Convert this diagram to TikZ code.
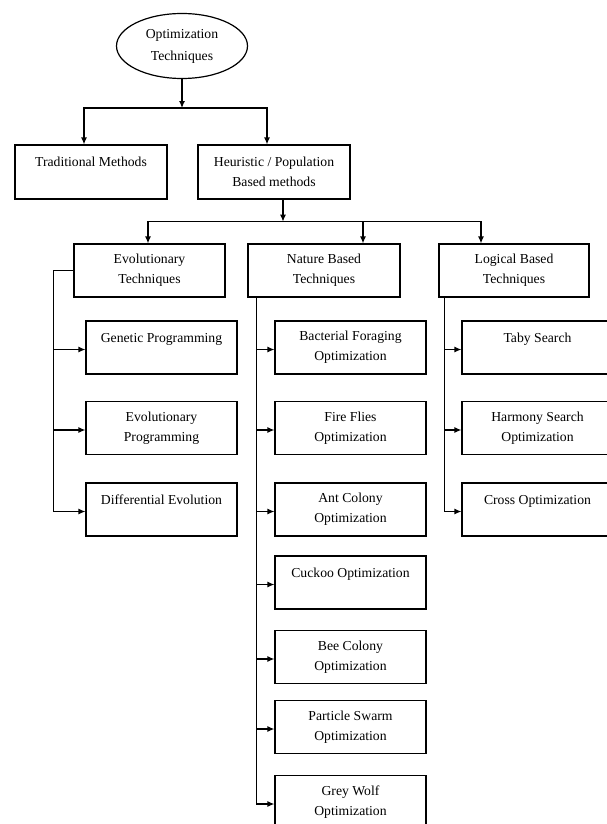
\documentclass[tikz,border=0pt]{standalone}
\usepackage{fontspec}
\setmainfont{Liberation Serif}
\usetikzlibrary{shapes.geometric,arrows.meta}
\begin{document}
\begin{tikzpicture}[x=1pt,y=-1pt,line width=1.2pt,>={Latex[length=7pt,width=6pt]},
    box/.style={draw,rectangle,minimum width=151pt,minimum height=53pt,inner sep=2pt,align=center,font=\fontsize{13.7}{20}\selectfont},
    oval/.style={draw,ellipse,minimum width=131pt,minimum height=65pt,inner sep=0pt,align=center,font=\fontsize{13.7}{22}\selectfont}]
      \useasboundingbox (0,0) rectangle (606,824);
      \node[oval] (opt) at (182,46) {Optimization\\Techniques};
      \node[box,minimum width=152pt,minimum height=54pt] (trad) at (91,172) {Traditional Methods\\~};
      \node[box,minimum width=152pt,minimum height=54pt] (heur) at (274,172) {Heuristic / Population\\Based methods};
      \node[box] (evo) at (149.5,270.5) {Evolutionary\\Techniques};
      \node[box,minimum width=152pt] (nat) at (324,270.5) {Nature Based\\Techniques};
      \node[box,minimum width=150pt] (logic) at (514,270.5) {Logical Based\\Techniques};
      % evolutionary
      \node[box] (gen) at (161.5,347.5) {Genetic Programming\\~};
      \node[box] (evp) at (161.5,428) {Evolutionary\\Programming};
      \node[box] (dif) at (161.5,509.5) {Differential Evolution\\~};
      % nature based
      \node[box] (bfo) at (350.5,347.5) {Bacterial Foraging\\Optimization};
      \node[box] (ffo) at (350.5,428) {Fire Flies\\Optimization};
      \node[box] (aco) at (350.5,509.5) {Ant Colony\\Optimization};
      \node[box] (cko) at (350.5,582.5) {Cuckoo Optimization\\~};
      \node[box] (bco) at (350.5,657) {Bee Colony\\Optimization};
      \node[box] (pso) at (350.5,727) {Particle Swarm\\Optimization};
      \node[box] (gwo) at (350.5,802) {Grey Wolf\\Optimization};
      % logical based
      \node[box] (tabu) at (537.5,347.5) {Taby Search\\~};
      \node[box] (hso) at (537.5,428) {Harmony Search\\Optimization};
      \node[box] (cro) at (537.5,509.5) {Cross Optimization\\~};
      % first level
      \draw[->,line width=2pt] (opt.south) -- ++(0,29) coordinate (top);
      \draw[->] (top) -| ([xshift=-7pt]trad.north);
      \draw[->] (top) -| ([xshift=-7pt]heur.north);
      % second level
      \draw[->] ([xshift=9pt]heur.south) -- ++(0,22) coordinate (mid);
      \draw[->] (mid) -| ([xshift=-1.5pt]evo.north);
      \draw[->] (mid) -| ([xshift=39pt]nat.north);
      \draw[->] (mid) -| ([xshift=-33pt]logic.north);
      % spines
      \draw (evo.west) -- ++(-20,0) coordinate (evospine);
      \coordinate (natspine) at ([xshift=9pt]nat.south west);
      \coordinate (logspine) at ([xshift=6pt]logic.south west);
      \foreach \c in {gen,evp,dif}
        \draw[->] (evospine) |- ([yshift=-2pt]\c.west);
      \foreach \c in {bfo,ffo,aco,cko,bco,pso,gwo}
        \draw[->] (natspine) |- ([yshift=-2pt]\c.west);
      \foreach \c in {tabu,hso,cro}
        \draw[->] (logspine) |- ([yshift=-2pt]\c.west);
\end{tikzpicture}
\end{document}
